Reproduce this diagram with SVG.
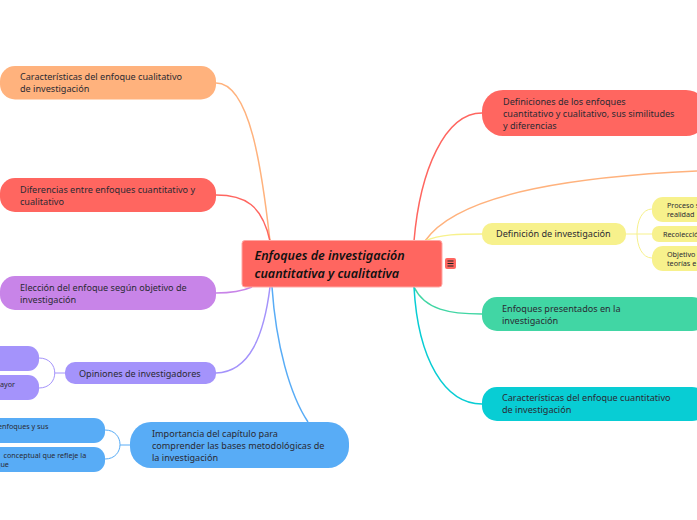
<svg xmlns="http://www.w3.org/2000/svg" width="697" height="520" viewBox="0 0 697 520">
<style>
text{font-family:"Noto Sans","Open Sans","DejaVu Sans",sans-serif;font-size:9.1px;fill:#2a2a33}
.s{font-size:7.2px}
.c path{fill:none;stroke-width:1.5}
.t path{fill:none;stroke-width:1}
.o{fill:#ffb27d}.r{fill:#ff6660}.p{fill:#c884e8}.v{fill:#a493fb}.b{fill:#58acf6}.y{fill:#f7f18c}.g{fill:#41d6a4}.a{fill:#08cdd4}
</style>
<rect width="697" height="520" fill="#fff"/>
<g class="c" id="connectors">
<path d="M216 83C250 83 262 170 270 241" stroke="#ffb27d"/>
<path d="M216 195C245 195 262 205 270 241" stroke="#ff6660"/>
<path d="M216 293C235 293 245 290 252 287" stroke="#c884e8"/>
<path d="M216 373C250 372 264 335 270 287" stroke="#a493fb"/>
<path d="M272 287C276 345 290 395 308 422" stroke="#58acf6"/>
<path d="M482 113C445 113 420 170 414 241" stroke="#ff6660"/>
<path d="M697 171C590 176 460 190 425 241" stroke="#ffb27d"/>
<path d="M482 234C460 234 440 234 425 241" stroke="#f7f18c"/>
<path d="M482 314C450 314 425 310 414 287" stroke="#41d6a4"/>
<path d="M482 404C445 404 418 360 414 287" stroke="#08cdd4"/>
</g>
<g class="t" id="sub-connectors">
<path d="M65 373H55M39 358C60 358 60 388 39 388" stroke="#a493fb"/>
<path d="M130 445H120M105 430C125 430 125 459 105 459" stroke="#58acf6"/>
<path d="M626 234H637M652 209C632 209 632 258 652 258M637 234H652" stroke="#f7f18c"/>
</g>
<g id="n-root"><rect x="242" y="240.500" width="200" height="46.500" rx="3" fill="#ff6660" stroke="#ffa8a4"/>
<text x="254.500" y="259.500" style="font-size:12.500px;font-style:italic;font-weight:600;fill:#111">Enfoques de investigación</text><text x="254.500" y="278" style="font-size:12.500px;font-style:italic;font-weight:600;fill:#111">cuantitativa y cualitativa</text></g>
<g id="n-menu"><rect x="445" y="258" width="11" height="11" rx="2" fill="#ff6660"/><path d="M447.500 261H453.500M447.500 263.500H453.500M447.500 266H453.500" stroke="#222" stroke-width="1" fill="none"/></g>
<g id="n-l1"><rect x="0" y="66" width="216" height="33.500" rx="15" class="o"/><text x="20" y="79.500">Características del enfoque cualitativo</text><text x="20" y="92">de investigación</text></g>
<g id="n-l2"><rect x="0" y="178" width="216" height="34" rx="15" class="r"/><text x="20" y="192.500">Diferencias entre enfoques cuantitativo y</text><text x="20" y="205">cualitativo</text></g>
<g id="n-l3"><rect x="0" y="276" width="216" height="34" rx="15" class="p"/><text x="20" y="290.500">Elección del enfoque según objetivo de</text><text x="20" y="303">investigación</text></g>
<g id="n-l4"><rect x="65" y="362" width="151" height="22" rx="10" class="v"/><text x="79" y="376.500">Opiniones de investigadores</text></g>
<g id="n-l4a"><rect x="-20" y="346" width="59" height="25" rx="11" class="v"/></g>
<g id="n-l4b"><rect x="-20" y="375" width="59" height="25" rx="11" class="v"/><text x="0" y="387" class="s">ayor</text></g>
<g id="n-l5"><rect x="130" y="422" width="219" height="46" rx="21" class="b"/><text x="152" y="437">Importancia del capítulo para</text><text x="152" y="449">comprender las bases metodológicas de</text><text x="152" y="461">la investigación</text></g>
<g id="n-l5a"><rect x="-20" y="418" width="125" height="25" rx="11" class="b"/><text x="-2" y="429" class="s">enfoques y sus</text></g>
<g id="n-l5b"><rect x="-20" y="447" width="125" height="25" rx="11" class="b"/><text x="3.500" y="458" class="s">conceptual que refleje la</text><text x="-4" y="467" class="s">que</text></g>
<g id="n-r1"><rect x="482" y="90" width="225" height="46" rx="21" class="r"/><text x="503" y="105">Definiciones de los enfoques</text><text x="503" y="117">cuantitativo y cualitativo, sus similitudes</text><text x="503" y="129">y diferencias</text></g>
<g id="n-r2"><rect x="482" y="223" width="144" height="22" rx="10" class="y"/><text x="496" y="237">Definición de investigación</text></g>
<g id="n-r2a"><rect x="652" y="197" width="60" height="25" rx="11" class="y"/><text x="667" y="208" class="s">Proceso s</text><text x="667" y="217" class="s">realidad</text></g>
<g id="n-r2b"><rect x="652" y="226" width="60" height="16" rx="7" class="y"/><text x="663" y="237" class="s">Recolecció</text></g>
<g id="n-r2c"><rect x="652" y="246" width="60" height="25" rx="11" class="y"/><text x="667" y="257" class="s">Objetivo</text><text x="667" y="266" class="s">teorías e</text></g>
<g id="n-r3"><rect x="482" y="297" width="225" height="34" rx="15" class="g"/><text x="502" y="312">Enfoques presentados en la</text><text x="502" y="324">investigación</text></g>
<g id="n-r4"><rect x="482" y="387" width="225" height="34" rx="15" class="a"/><text x="502" y="401">Características del enfoque cuantitativo</text><text x="502" y="413">de investigación</text></g>
</svg>
